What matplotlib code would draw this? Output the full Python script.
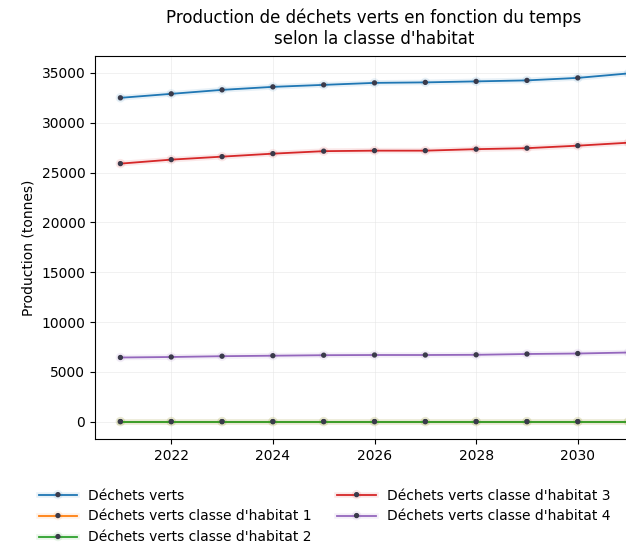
import matplotlib
matplotlib.use("Agg")
import matplotlib.pyplot as plt
import matplotlib.patheffects as pe

years = [2021, 2022, 2023, 2024, 2025, 2026, 2027, 2028, 2029, 2030, 2031]
dechets_verts = [32500, 32900, 33300, 33600, 33800, 34000, 34050, 34150, 34250, 34500, 34950]
classe_1 = [20, 20, 20, 20, 20, 20, 20, 20, 20, 20, 20]
classe_2 = [20, 20, 20, 20, 20, 20, 20, 20, 20, 20, 20]
classe_3 = [25900, 26300, 26600, 26900, 27150, 27200, 27200, 27350, 27450, 27700, 28000]
classe_4 = [6450, 6500, 6580, 6630, 6680, 6700, 6700, 6720, 6800, 6850, 6950]

series = [
    ("Déchets verts", dechets_verts, "tab:blue"),
    ("Déchets verts classe d'habitat 1", classe_1, "tab:orange"),
    ("Déchets verts classe d'habitat 2", classe_2, "tab:green"),
    ("Déchets verts classe d'habitat 3", classe_3, "tab:red"),
    ("Déchets verts classe d'habitat 4", classe_4, "tab:purple"),
]

W, H = 626, 548
fig = plt.figure(figsize=(W / 100, H / 100), dpi=100)
ax = fig.add_axes([95 / W, (H - 439) / H, 559 / W, (439 - 56) / H])

for label, vals, col in series:
    ax.plot(years, vals, color=col, lw=1.3, marker='o', ms=2.8,
            mfc='#3a3a4a', mec='#3a3a4a', label=label,
            path_effects=[pe.Stroke(linewidth=4, foreground=col, alpha=0.1), pe.Normal()])

ax.grid(True, color='#e4e4e4', lw=0.6, alpha=0.6)
ax.set_ylabel("Production (tonnes)")
ax.set_xticks([2022, 2024, 2026, 2028, 2030])
ax.set_yticks([0, 5000, 10000, 15000, 20000, 25000, 30000, 35000])

fig.text(374 / W, 1 - 28 / H, "Production de déchets verts en fonction du temps\nselon la classe d'habitat",
         ha='center', va='center', fontsize=12, linespacing=1.2)

fig.legend(loc='upper left', bbox_to_anchor=(26 / W, 1 - 476 / H), ncol=2, frameon=False,
           handlelength=2.8, columnspacing=1.8, fontsize=10)

fig.savefig("out.png", dpi=100)
